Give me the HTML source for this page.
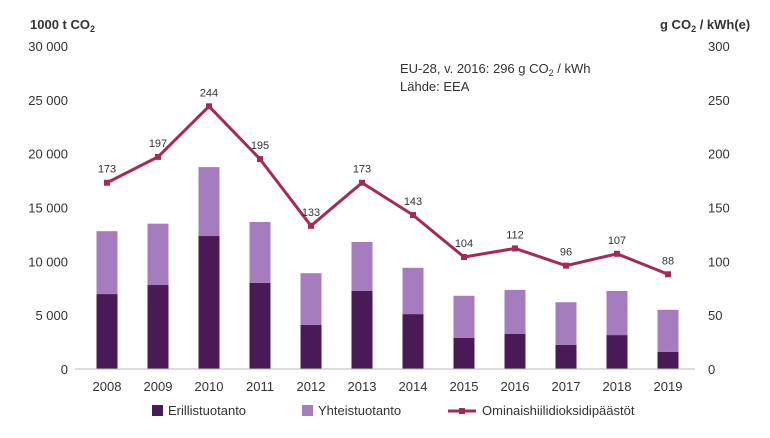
<!DOCTYPE html>
<html><head><meta charset="utf-8"><style>
body{margin:0;background:#fff;font-family:"Liberation Sans",sans-serif;}
svg text{font-family:"Liberation Sans",sans-serif;fill:#333;}
</style></head><body>
<svg id="chart" width="770" height="433">
<g id="grid"></g><g id="bars"></g><g id="line"></g><g id="axes"></g>
<text x="30" y="29" font-size="13" font-weight="bold">1000 t CO<tspan font-size="9" dy="3">2</tspan></text>
<text x="660" y="29" font-size="13" font-weight="bold">g CO<tspan font-size="9" dy="3">2</tspan><tspan dy="-3"> / kWh(e)</tspan></text>
<text x="400" y="73" font-size="13">EU-28, v. 2016: 296 g CO<tspan font-size="9" dy="3">2</tspan><tspan dy="-3"> / kWh</tspan></text>
<text x="400" y="91" font-size="13">Lähde: EEA</text>
<g>
<rect x="152" y="405" width="11" height="11" fill="#4a1a57"/>
<text x="168" y="415" font-size="13">Erillistuotanto</text>
<rect x="302" y="405" width="11" height="11" fill="#a57cbd"/>
<text x="318" y="415" font-size="13">Yhteistuotanto</text>
<line x1="448" y1="411" x2="476" y2="411" stroke="#a52a5a" stroke-width="3"/>
<rect x="459" y="408" width="6" height="6" fill="#a52a5a"/>
<text x="482" y="415" font-size="13">Ominaishiilidioksidipäästöt</text>
</g>
</svg>
<script>
const years=["2008","2009","2010","2011","2012","2013","2014","2015","2016","2017","2018","2019"];
const erillis=[6960,7800,12350,8000,4100,7250,5100,2900,3250,2250,3150,1600];
const yhteis=[5840,5700,6400,5650,4800,4550,4300,3900,4100,3950,4100,3900];
const specific=[173,197,244,195,133,173,143,104,112,96,107,88];
const leftTicks=["0","5 000","10 000","15 000","20 000","25 000","30 000"];
const rightTicks=["0","50","100","150","200","250","300"];
const NS="http://www.w3.org/2000/svg";
const x0=75,x1=695,yTop=46,yBot=369;
const yL=v=>yBot-(v/30000)*(yBot-yTop);
const yR=v=>yBot-(v/300)*(yBot-yTop);
const step=51;
const xC=i=>107+step*i;
function mk(tag,attrs,parent){const e=document.createElementNS(NS,tag);for(const k in attrs)e.setAttribute(k,attrs[k]);document.getElementById(parent).appendChild(e);return e;}
leftTicks.forEach((t,i)=>{const y=yL(i*5000);
 const tx=mk("text",{x:68,y:y+5,"font-size":13,"text-anchor":"end"},"axes");tx.textContent=t;
 
 
 const tr=mk("text",{x:708,y:y+5,"font-size":13},"axes");tr.textContent=rightTicks[i];
 
 
});
const ax=mk("line",{x1:x0,y1:yBot,x2:x1,y2:yBot,stroke:"#bbb"},"axes");


years.forEach((yr,i)=>{const cx=xC(i);
 const b1=mk("rect",{x:cx-10.5,y:yL(erillis[i]),width:21,height:yBot-yL(erillis[i]),fill:"#4a1a57"},"bars");
 
 
 const tot=erillis[i]+yhteis[i];
 const b2=mk("rect",{x:cx-10.5,y:yL(tot),width:21,height:yL(erillis[i])-yL(tot),fill:"#a57cbd"},"bars");
 
 
 const t=mk("text",{x:cx,y:391,"font-size":13,"text-anchor":"middle"},"axes");t.textContent=yr;
 
 
});
const pl=mk("polyline",{points:specific.map((v,i)=>xC(i)+","+yR(v)).join(" "),fill:"none",stroke:"#a52a5a","stroke-width":3},"line");


specific.forEach((v,i)=>{
 const m=mk("rect",{x:xC(i)-3,y:yR(v)-3,width:6,height:6,fill:"#a52a5a"},"line");
 
 
 const l=mk("text",{x:xC(i),y:yR(v)-10,"font-size":11,"text-anchor":"middle"},"line");l.textContent=v;
 
 
});
</script>
</body></html>
